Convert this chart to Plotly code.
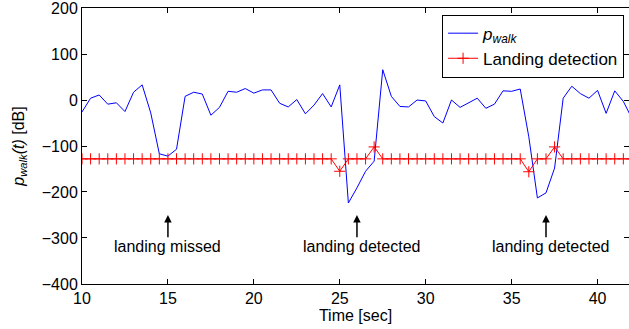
import plotly.graph_objects as go

time_sec = [10.0, 10.5, 11.0, 11.5, 12.0, 12.5, 13.0, 13.5, 14.0, 14.5,
            15.0, 15.5, 16.0, 16.5, 17.0, 17.5, 18.0, 18.5, 19.0, 19.5,
            20.0, 20.5, 21.0, 21.5, 22.0, 22.5, 23.0, 23.5, 24.0, 24.5,
            25.0, 25.5, 26.0, 26.5, 27.0, 27.5, 28.0, 28.5, 29.0, 29.5,
            30.0, 30.5, 31.0, 31.5, 32.0, 32.5, 33.0, 33.5, 34.0, 34.5,
            35.0, 35.5, 36.0, 36.5, 37.0, 37.5, 38.0, 38.5, 39.0, 39.5,
            40.0, 40.5, 41.0, 41.5, 42.0]

p_walk = [-26, 4, 11, -9, -6, -25, 17, 33, -28, -117,
          -122, -107, 8, 17, 13, -33, -16, 19, 17, 25,
          15, 22, 22, -7, -15, 1, -30, -11, 14, -15,
          33, -224, -191, -155, -133, 66, 8, -14, -15, 0,
          -2, -36, -50, 0, -16, -6, 4, -18, -9, 20,
          19, 24, -80, -213, -202, -148, 4, 30, 14, 4,
          21, -29, 20, -3, -40]

landing = [-128, -128, -128, -128, -128, -128, -128, -128, -128, -128,
           -128, -128, -128, -128, -128, -128, -128, -128, -128, -128,
           -128, -128, -128, -128, -128, -128, -128, -128, -128, -128,
           -155, -128, -128, -128, -102, -128, -128, -128, -128, -128,
           -128, -128, -128, -128, -128, -128, -128, -128, -128, -128,
           -128, -128, -156, -128, -128, -102, -128, -128, -128, -128,
           -128, -128, -128, -128, -128]

arrow_x = [15, 26, 37]
note_x = [15.0, 26.28, 37.28]
note_text = ["landing missed", "landing detected", "landing detected"]

x_ticks = [10, 15, 20, 25, 30, 35, 40]
y_ticks = [-400, -300, -200, -100, 0, 100, 200]

FONT = "Liberation Sans, Arial, Helvetica, sans-serif"

fig = go.Figure()
fig.add_trace(go.Scatter(
    x=time_sec, y=p_walk, mode="lines",
    name="<i>p</i><sub><i>walk</i></sub>",
    line=dict(color="#0000FF", width=1)))
fig.add_trace(go.Scatter(
    x=time_sec, y=landing, mode="lines+markers",
    name="Landing detection",
    line=dict(color="#FF0000", width=1),
    marker=dict(symbol="cross-thin", size=8, color="#FF0000",
                line=dict(color="#FF0000", width=1))))

for ax_, nx, tx in zip(arrow_x, note_x, note_text):
    fig.add_annotation(x=ax_, y=-250, ax=ax_, ay=-302, xref="x", yref="y",
                       axref="x", ayref="y", showarrow=True, text="",
                       arrowhead=2, arrowsize=1, arrowwidth=1.5,
                       arrowcolor="black")
    fig.add_annotation(x=nx, y=-318, xref="x", yref="y", text=tx,
                       showarrow=False, font=dict(size=16, color="black"),
                       xanchor="center", yanchor="middle")

axis_common = dict(showgrid=False, zeroline=False, showline=True,
                   linecolor="black", linewidth=1, mirror="allticks",
                   ticks="inside", ticklen=5, tickcolor="black",
                   automargin=False, ticklabeloverflow="allow",
                   tickfont=dict(size=16, color="black"))

fig.update_xaxes(range=[10, 41.83], tickvals=x_ticks,
                 title=dict(text="Time [sec]", font=dict(size=16, color="black"),
                            standoff=0),
                 **axis_common)
fig.update_yaxes(range=[-400.2, 200.2], tickvals=y_ticks,
                 title=dict(text="<i>p</i><sub><i>walk</i></sub><i>(t)</i> [dB]",
                            font=dict(size=16, color="black"), standoff=13),
                 **axis_common)

fig.update_layout(
    width=629, height=329,
    margin=dict(l=82, r=0, t=8, b=45, autoexpand=False),
    paper_bgcolor="white", plot_bgcolor="white",
    font=dict(family=FONT, size=16, color="black"),
    showlegend=True,
    legend=dict(x=0.991, y=0.976, xanchor="right", yanchor="top",
                bgcolor="white", bordercolor="black", borderwidth=1,
                font=dict(size=17, color="black"),
                tracegroupgap=0, itemwidth=30),
)

fig.write_html("out.html", config={"displayModeBar": False},
               post_script="document.body.style.margin='0';document.body.style.overflow='hidden';")
